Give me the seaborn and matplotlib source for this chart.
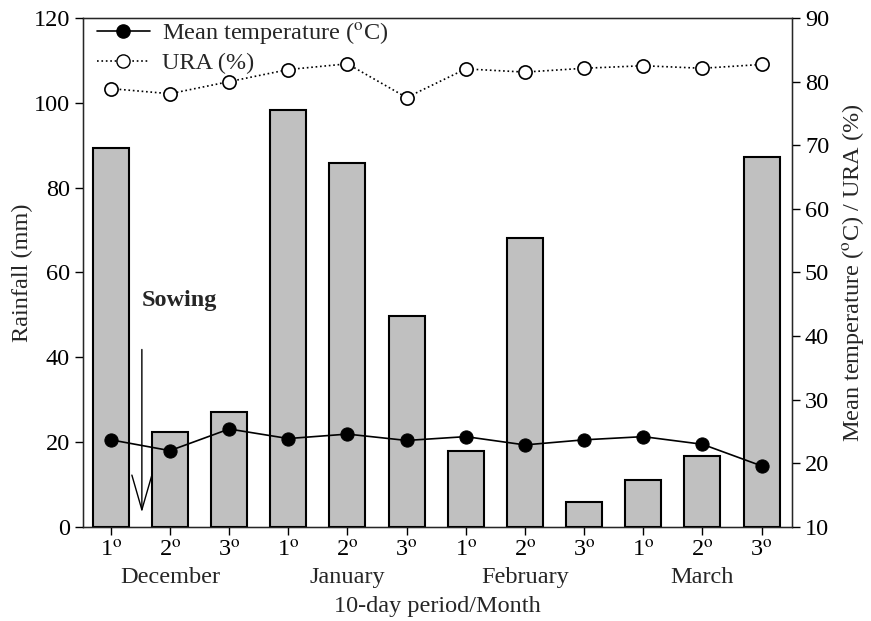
import numpy as np
import pandas as pd
import matplotlib
matplotlib.use('Agg')
import matplotlib.pyplot as plt
from matplotlib.lines import Line2D
import seaborn as sns

# data
periods = ['1$^{\\mathrm{o}}$', '2$^{\\mathrm{o}}$', '3$^{\\mathrm{o}}$'] * 4
months = ['December', 'January', 'February', 'March']
rainfall = [89.3, 22.5, 27.1, 98.3, 85.9, 49.8, 18.0, 68.1, 5.9, 11.1, 16.8, 87.2]
mean_temp = [23.7, 22.0, 25.4, 23.9, 24.6, 23.6, 24.2, 22.9, 23.7, 24.2, 23.0, 19.6]
ura = [78.9, 78.1, 80.0, 81.9, 82.8, 77.5, 82.0, 81.5, 82.1, 82.5, 82.1, 82.7]

FS = 17.5

sns.set_style('ticks')
plt.rcParams['font.family'] = ['Liberation Serif', 'DejaVu Serif']
plt.rcParams['mathtext.fontset'] = 'stix'
plt.rcParams['font.size'] = FS

df = pd.DataFrame({'pos': range(len(rainfall)), 'rain': rainfall,
                   'temp': mean_temp, 'ura': ura})

fig = plt.figure(figsize=(8.71, 6.21), dpi=100)
ax = fig.add_axes([0.0953, 0.1514, 0.8137, 0.8196])

sns.barplot(data=df, x='pos', y='rain', color='#c0c0c0', width=0.61,
            edgecolor='black', linewidth=1.5, saturation=1, ax=ax)
ax.set_xlim(-0.47, 11.51)
ax.set_ylim(0, 120)
ax.set_yticks(range(0, 121, 20))
ax.set_xticks(range(len(periods)))
ax.set_xticklabels(periods)
ax.set_ylabel('Rainfall (mm)', fontsize=FS, labelpad=0)
ax.set_xlabel('10-day period/Month', fontsize=FS, labelpad=25)
ax.tick_params(direction='out', length=6, width=1, labelsize=FS, colors='black')
for s in ax.spines.values():
    s.set_linewidth(1)
    s.set_color('black')

for i, m in enumerate(months):
    ax.text(3 * i + 1, -0.1, m, transform=ax.get_xaxis_transform(),
            ha='center', va='center', fontsize=FS)

# sowing arrow
ax.annotate('', xy=(0.525, 2.8), xytext=(0.525, 42.5),
            arrowprops=dict(arrowstyle='->,head_length=2.5,head_width=0.72',
                            mutation_scale=10, ec='black', lw=1))
ax.text(0.52, 53.5, 'Sowing', fontweight='bold', fontsize=FS, ha='left', va='center')

ax2 = ax.twinx()
sns.lineplot(data=df, x='pos', y='temp', color='black', marker='o',
             markersize=9.5, markerfacecolor='black', markeredgecolor='black',
             linewidth=1.2, ax=ax2)
sns.lineplot(data=df, x='pos', y='ura', color='black', marker='o',
             markersize=9.5, markerfacecolor='white', markeredgecolor='black',
             markeredgewidth=1.2, linestyle=':', linewidth=1.2, ax=ax2)
ax2.set_ylim(10, 90)
ax2.set_yticks(range(10, 91, 10))
ax2.set_xlim(-0.47, 11.51)
ax2.set_ylabel('Mean temperature ($^{\\mathrm{o}}$C) / URA (%)', fontsize=FS, labelpad=8)
ax2.tick_params(direction='out', length=6, width=1, labelsize=FS, colors='black')

handles = [
    Line2D([], [], color='black', marker='o', markersize=9.5, lw=1.2),
    Line2D([], [], color='black', marker='o', markersize=9.5, lw=1.2,
           ls=':', markerfacecolor='white'),
]
ax2.legend(handles, ['Mean temperature ($^{\\mathrm{o}}$C)', 'URA (%)'],
           loc='upper left', bbox_to_anchor=(0.009, 1.01),
           frameon=False, fontsize=FS, handlelength=2.2,
           handletextpad=0.5, labelspacing=0.25, borderaxespad=0.0,
           borderpad=0.3)

fig.savefig('out.png', dpi=100)
